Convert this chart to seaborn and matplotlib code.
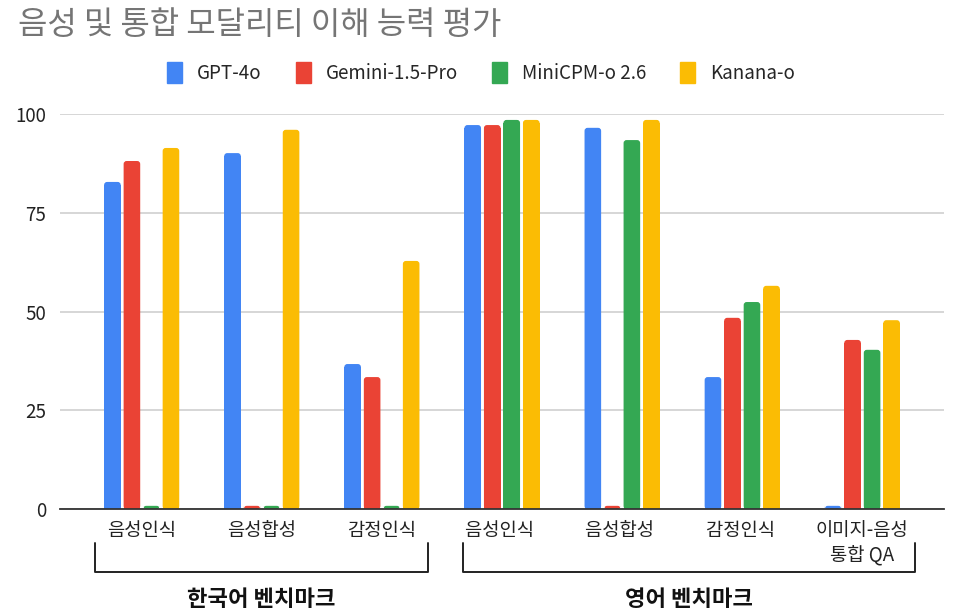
import matplotlib
matplotlib.use("Agg")
import matplotlib.pyplot as plt
import matplotlib.patches as mpatches
from matplotlib.transforms import blended_transform_factory
import seaborn as sns
import pandas as pd

categories = ["음성인식", "음성합성", "감정인식", "음성인식 ", "음성합성 ", "감정인식 ", "이미지-음성\n통합 QA"]
models = ["GPT-4o", "Gemini-1.5-Pro", "MiniCPM-o 2.6", "Kanana-o"]
gpt4o = [82.8, 90.1, 36.7, 97.2, 96.5, 33.4, 0.8]
gemini = [88.1, 0.8, 33.4, 97.2, 0.8, 48.4, 42.8]
minicpm = [0.8, 0.8, 0.8, 98.5, 93.4, 52.4, 40.3]
kanana = [91.4, 96.0, 62.8, 98.5, 98.5, 56.5, 47.8]
yticks = [0, 25, 50, 75, 100]
groups = ["한국어 벤치마크", "영어 벤치마크"]
colors = ["#4285F4", "#EA4335", "#34A853", "#FBBC04"]

rows = []
for m, vals in zip(models, [gpt4o, gemini, minicpm, kanana]):
    for c, v in zip(categories, vals):
        rows.append({"category": c, "model": m, "value": v})
df = pd.DataFrame(rows)

sns.set_theme(style="white")
plt.rcParams["font.family"] = ["Noto Sans CJK KR", "DejaVu Sans"]

fig = plt.figure(figsize=(9.62, 6.14), dpi=100)
ax = fig.add_axes([60/962, 1-509/614, (944-60)/962, 395/614])

sns.barplot(data=df, x="category", y="value", hue="model", order=categories,
            hue_order=models, palette=colors, saturation=1, width=0.65, gap=0.15,
            linewidth=0, ax=ax, legend=False)

ax.set_xlim(-0.68, 6.68)
ax.set_ylim(0, 100)

# round the top corners of the bars
px_per_x = (944-60) / 7.36
px_per_y = 395 / 100
for p in list(ax.patches):
    x, y = p.get_x(), p.get_y()
    w, h = p.get_width(), p.get_height()
    fc = p.get_facecolor()
    r = min(3 / px_per_x, w / 2)
    fb = mpatches.FancyBboxPatch((x, y), w, h,
                                 boxstyle=mpatches.BoxStyle("Round", pad=0, rounding_size=r),
                                 mutation_aspect=px_per_x / px_per_y,
                                 facecolor=fc, edgecolor="none", zorder=p.get_zorder())
    sq = mpatches.Rectangle((x, y), w, max(h - 3 / px_per_y, 0),
                            facecolor=fc, edgecolor="none", zorder=p.get_zorder())
    p.set_visible(False)
    ax.add_patch(fb)
    ax.add_patch(sq)

ax.set_yticks(yticks)
ax.set_yticklabels([str(t) for t in yticks], fontsize=13.5, color="#222222")
ax.set_xlabel("")
ax.set_ylabel("")
ax.tick_params(axis="x", labelsize=13.5, colors="#222222", length=0, pad=8)
ax.tick_params(axis="y", length=0, pad=10)
ax.yaxis.grid(True, color="#d0d0d0", linewidth=1.2)
ax.set_axisbelow(True)
for s in ["top", "right", "left"]:
    ax.spines[s].set_visible(False)
ax.spines["bottom"].set_color("#333333")
ax.spines["bottom"].set_linewidth(1.3)
ax.spines["bottom"].set_zorder(5)

# brackets
tr = blended_transform_factory(ax.transData, ax.transAxes)
y_top = (509-543)/395
y_bot = (509-572)/395
for (x0, x1), g in zip([(-0.39, 2.38), (2.675, 6.44)], groups):
    ax.plot([x0, x0, x1, x1], [y_top, y_bot, y_bot, y_top], transform=tr,
            color="#222222", linewidth=1.4, clip_on=False, solid_joinstyle="round")
    ax.text((x0 + x1) / 2, (509-600)/395, g, transform=tr, ha="center", va="center",
            fontsize=16, fontweight="bold", color="#111111")

fig.text(18/962, 1-25/614, "음성 및 통합 모달리티 이해 능력 평가", fontsize=23,
         color="#757575", ha="left", va="center")

handles = [mpatches.Patch(color=c, label=m) for c, m in zip(colors, models)]
fig.legend(handles=handles, loc="center", bbox_to_anchor=(0.5, 1-73/614), ncol=4,
           frameon=False, fontsize=13.5, handlelength=0.8, handleheight=1.3,
           handletextpad=0.8, columnspacing=1.8)

fig.savefig("out.png", dpi=100)
